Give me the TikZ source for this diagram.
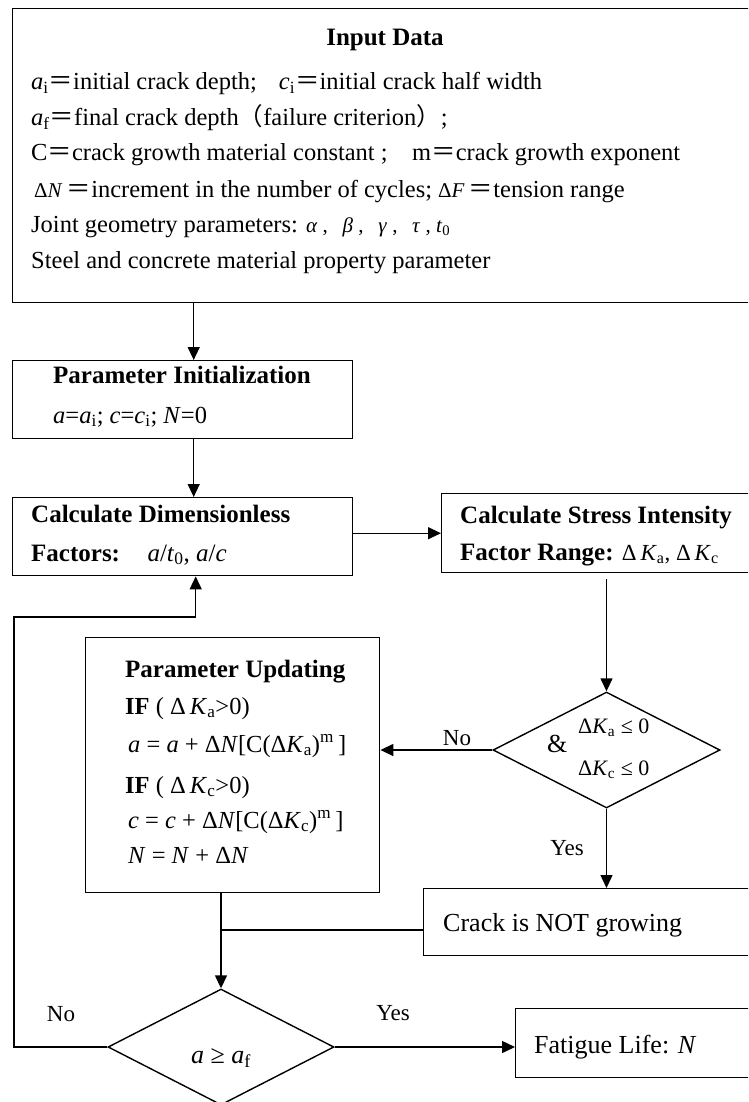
\documentclass[tikz,border=0pt]{standalone}
\usepackage{fontspec}
\setmainfont{Liberation Serif}
\newfontfamily\cjk{Noto Sans CJK SC}
\usetikzlibrary{arrows.meta,shapes.geometric}
\newcommand{\feq}{{\cjk ＝}}
\newcommand{\flp}{{\cjk （}}
\newcommand{\frp}{{\cjk ）}}
\tikzset{
 box/.style={draw, line width=1.4pt, rectangle, inner sep=0pt, anchor=north west},
 dia/.style={draw, line width=1.4pt, diamond, inner sep=0pt},
 arr/.style={line width=1.4pt, -{Triangle[length=13pt,width=12pt]}},
 ln/.style={line width=1.4pt},
 txt/.style={inner sep=0pt, anchor=base west, font=\fontsize{24.5}{28}\selectfont},
 ttl/.style={inner sep=0pt, anchor=base west, font=\fontsize{25}{30}\selectfont\bfseries},
 lbl/.style={inner sep=0pt, anchor=base, font=\fontsize{23}{28}\selectfont},
 big/.style={font=\fontsize{26}{30}\selectfont},
 sml/.style={font=\fontsize{22}{26}\selectfont},
}
\begin{document}
\begin{tikzpicture}[x=1pt,y=-1pt]
\useasboundingbox (0,0) rectangle (748,1102);
\clip (0,0) rectangle (748,1102);
% boxes
\node[box, minimum width=758pt, minimum height=294pt] (in) at (12,8) {};
\node[box, minimum width=340pt, minimum height=78pt] (init) at (12,360) {};
\node[box, minimum width=340pt, minimum height=78pt] (dim) at (12,497) {};
\node[box, minimum width=330pt, minimum height=79pt] (stress) at (441,493) {};
\node[box, minimum width=294pt, minimum height=255pt] (upd) at (85,637) {};
\node[box, minimum width=350pt, minimum height=67pt] (crack) at (423,888) {};
\node[box, minimum width=260pt, minimum height=69pt] (fat) at (515,1008) {};
\node[dia, minimum width=227pt, minimum height=116pt] (d1) at (606.5,750) {};
\node[dia, minimum width=226pt, minimum height=116pt] (d2) at (221,1047) {};
% texts: input
\node[ttl, anchor=base] (tin) at (385,46) {Input Data};
\node[txt] (l1) at (31,90) {\textit{a}\textsubscript{i}\feq initial crack depth;\hspace{0.9em}\textit{c}\textsubscript{i}\feq initial crack half width};
\node[txt] (l2) at (31,125.5) {\textit{a}\textsubscript{f}\feq final crack depth\flp failure criterion\frp;};
\node[txt] (l3) at (31,161) {C\feq crack growth material constant ;\hspace{1em}m\feq crack growth exponent};
\node[txt] (l4) at (34,197) {{\fontsize{21}{24}\selectfont Δ\textit{N}}\,\feq increment in the number of cycles; {\fontsize{21}{24}\selectfont Δ\textit{F}}\,\feq tension range};
\node[txt] (l5) at (31,232) {Joint geometry parameters: {\fontsize{21}{24}\selectfont\textit{α}\ ,\hspace{0.7em}\textit{β}\ ,\hspace{0.7em}\textit{γ}\ ,\hspace{0.7em}\textit{τ}\ , \textit{t}\textsubscript{0}}};
\node[txt] (l6) at (31,268) {Steel and concrete material property parameter};
% init
\node[ttl, anchor=base] (tinit) at (182,383) {Parameter Initialization};
\node[txt] (tinit2) at (53,423) {\textit{a}=\textit{a}\textsubscript{i}; \textit{c}=\textit{c}\textsubscript{i}; \textit{N}=0};
% dim
\node[ttl] (tdim) at (31,522) {Calculate Dimensionless};
\node[ttl] (tdim2) at (31,561) {Factors:\hspace{1.1em}{\mdseries\textit{a}/\textit{t}\textsubscript{0}, \textit{a}/\textit{c}}};
% stress
\node[ttl] (tst) at (460,523) {Calculate Stress Intensity};
\node[ttl] (tst2) at (460,560) {Factor Range: {\mdseries\fontsize{23}{28}\selectfont Δ\,\textit{K}\textsubscript{a}, Δ\,\textit{K}\textsubscript{c}}};
% update
\node[ttl] (tu) at (125,677) {Parameter Updating};
\node[txt] (tu1) at (125,714) {\textbf{IF} ( Δ\,\textit{K}\textsubscript{a}>0)};
\node[txt] (tu2) at (128,752) {\textit{a} = \textit{a} + Δ\textit{N}[C(Δ\textit{K}\textsubscript{a})\textsuperscript{m}\,]};
\node[txt] (tu3) at (125,793) {\textbf{IF} ( Δ\,\textit{K}\textsubscript{c}>0)};
\node[txt] (tu4) at (128,828) {\textit{c} = \textit{c} + Δ\textit{N}[C(Δ\textit{K}\textsubscript{c})\textsuperscript{m}\,]};
\node[txt] (tu5) at (128,863) {\textit{N} = \textit{N} + Δ\textit{N}};
% others
\node[txt, big] (tcr) at (443,931) {Crack is NOT growing};
\node[txt, big] (tfa) at (534,1053) {Fatigue Life: \textit{N}};
\node[txt, big] (amp) at (547,752) {\&};
\node[txt, sml] (k1) at (578,733) {Δ\textit{K}\textsubscript{a} ≤ 0};
\node[txt, sml] (k2) at (578,775) {Δ\textit{K}\textsubscript{c} ≤ 0};
\node[txt, big, anchor=base] (tf) at (221,1063) {\textit{a} ≥ \textit{a}\textsubscript{f}};
\node[lbl] (no1) at (457,745) {No};
\node[lbl] (yes1) at (567,855) {Yes};
\node[lbl] (no2) at (61,1021) {No};
\node[lbl] (yes2) at (393,1020) {Yes};
% connectors
\coordinate (j) at (221,930);
\coordinate (fb) at (14,617);
\draw[arr] ([xshift=11pt]init.north |- in.south) -- ([xshift=11pt]init.north);
\draw[arr] ([xshift=11pt]init.south) -- ([xshift=11pt]dim.north);
\draw[arr] (stress.west -| dim.east) -- (stress.west);
\draw[arr] ([yshift=-6pt]stress.south -| d1.north) -- (d1.north);
\draw[arr] (d1.west) -- (d1.west -| upd.east);
\draw[arr] (d1.south) -- (d1.south |- crack.north);
\draw[arr] (d2.north |- upd.south) -- (d2.north);
\draw[ln] (crack.west |- j) -- (j);
\draw[arr] (d2.east) -- (d2.east -| fat.west);
\draw[arr] (d2.west) -| (fb) -| ([xshift=13pt]dim.south);
\end{tikzpicture}
\end{document}
